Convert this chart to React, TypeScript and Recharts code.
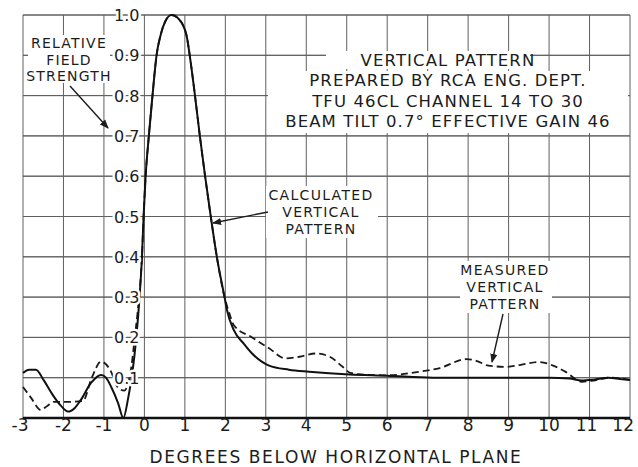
import React from 'react';
import { ComposedChart, Line, XAxis, YAxis, CartesianGrid, ReferenceDot, ReferenceLine, Customized } from 'recharts';

// Calculated vertical pattern (degrees, relative field)
const calcDeg = [-3.0, -2.85, -2.68, -2.49, -2.25, -2.06, -1.89, -1.72, -1.57, -1.32, -1.07, -0.95, -0.82, -0.65, -0.52, -0.4, -0.3, -0.2, -0.12, -0.06, -0.02, 0.03, 0.11, 0.2, 0.3, 0.4, 0.52, 0.67, 0.85, 1.04, 1.12, 1.25, 1.37, 1.5, 1.64, 1.79, 1.98, 2.04, 2.21, 2.45, 2.66, 3.08, 3.57, 4.07, 5.07, 6.0, 7.13, 8.0, 9.0, 10.0, 10.5, 10.81, 11.1, 11.47, 11.75, 12.0];
const calcVal = [0.112, 0.12, 0.12, 0.094, 0.055, 0.03, 0.016, 0.025, 0.045, 0.087, 0.107, 0.1, 0.077, 0.037, 0.0, 0.05, 0.11, 0.2, 0.3, 0.4, 0.5, 0.6, 0.7, 0.8, 0.9, 0.95, 0.985, 1.0, 0.99, 0.95, 0.9, 0.8, 0.7, 0.6, 0.5, 0.4, 0.3, 0.268, 0.218, 0.185, 0.16, 0.13, 0.12, 0.115, 0.108, 0.105, 0.1, 0.1, 0.1, 0.1, 0.098, 0.093, 0.095, 0.1, 0.097, 0.094];

// Measured vertical pattern
const measDeg = [-3.0, -2.8, -2.56, -2.4, -2.24, -1.9, -1.52, -1.3, -1.07, -0.85, -0.65, -0.5, -0.4, -0.3, -0.25, -0.15, -0.09, -0.06, -0.02, 0.03, 0.11, 0.2, 0.3, 0.4, 0.52, 0.67, 0.85, 1.04, 1.12, 1.25, 1.37, 1.5, 1.64, 1.79, 1.98, 2.1, 2.21, 2.66, 3.08, 3.48, 3.83, 4.23, 4.58, 4.9, 5.09, 5.5, 6.0, 6.73, 7.3, 7.96, 8.2, 8.5, 8.94, 9.3, 9.75, 10.1, 10.4, 10.81, 11.1, 11.5, 11.8, 12.0];
const measVal = [0.077, 0.05, 0.02, 0.03, 0.04, 0.04, 0.042, 0.1, 0.14, 0.12, 0.075, 0.068, 0.087, 0.144, 0.19, 0.28, 0.35, 0.4, 0.5, 0.6, 0.7, 0.8, 0.9, 0.95, 0.985, 1.0, 0.99, 0.95, 0.9, 0.8, 0.7, 0.6, 0.5, 0.4, 0.3, 0.26, 0.23, 0.2, 0.173, 0.148, 0.152, 0.16, 0.152, 0.127, 0.112, 0.107, 0.106, 0.114, 0.124, 0.146, 0.142, 0.13, 0.127, 0.132, 0.139, 0.13, 0.115, 0.09, 0.093, 0.1, 0.098, 0.095];

const xTicks = [-3, -2, -1, 0, 1, 2, 3, 4, 5, 6, 7, 8, 9, 10, 11, 12];
const yTicks = [0, 0.1, 0.2, 0.3, 0.4, 0.5, 0.6, 0.7, 0.8, 0.9, 1.0];
const yGridValues = [0.1, 0.2, 0.3, 0.4, 0.5, 0.6, 0.7, 0.8, 0.9, 1.0];
const yLabels = ['0.1', '0.2', '0.3', '0.4', '0.5', '0.6', '0.7', '0.8', '0.9', '1.0'];
const yLabelDeg = -0.75;

const titleLines = ['VERTICAL PATTERN', 'PREPARED BY RCA ENG. DEPT.', 'TFU 46CL CHANNEL 14 TO 30', 'BEAM TILT 0.7° EFFECTIVE GAIN 46'];
const calcLabel = ['CALCULATED', 'VERTICAL', 'PATTERN'];
const measLabel = ['MEASURED', 'VERTICAL', 'PATTERN'];
const axisLabelLines = ['RELATIVE', 'FIELD', 'STRENGTH'];
const xTitle = 'DEGREES BELOW HORIZONTAL PLANE';

const calcData = calcDeg.map((d, i) => ({ deg: d, calc: calcVal[i] }));
const measData = measDeg.map((d, i) => ({ deg: d, meas: measVal[i] }));

const FONT = '"DejaVu Sans", sans-serif';
const INK = '#1c1c1c';
const GRID = '#606060';

const W = 638;
const H = 467;
const MARGIN = { top: 15, right: 8, left: 22, bottom: 19 };
const X_AXIS_H = 30;
const Y_AXIS_W = 1;
const PLOT_LEFT = MARGIN.left + Y_AXIS_W;
const PLOT_RIGHT = W - MARGIN.right;
const PLOT_TOP = MARGIN.top;
const PLOT_H = H - MARGIN.top - MARGIN.bottom - X_AXIS_H;

const YLabel = (props: any) => {
  const { viewBox, value } = props;
  const x = viewBox.x + viewBox.width / 2;
  const y = viewBox.y + viewBox.height / 2;
  return (
    <text x={x} y={y + 6} fontFamily={FONT} fontSize={16} fill={INK} textAnchor="start"
      stroke="#fff" strokeWidth={5} paintOrder="stroke" strokeLinejoin="round">{value}</text>
  );
};

const XTick = (props: any) => {
  const { x, y, payload } = props;
  const v = payload.value;
  let anchor = 'middle';
  let dx = 0;
  if (v === 12) { anchor = 'end'; dx = 4; }
  if (v === 11) { dx = -3; }
  if (v === -3) { dx = -3; }
  return (
    <text x={x + dx} y={y + 13} textAnchor={anchor} fontFamily={FONT} fontSize={17} fill={INK}>{String(v)}</text>
  );
};

const Lines = ({ lines, cx, cy, gap, fs, ls }: any) => (
  <g>
    {lines.map((t: string, i: number) => (
      <text key={i} x={cx} y={cy + i * gap + fs * 0.36} textAnchor="middle" fontFamily={FONT}
        fontSize={fs} letterSpacing={ls} fill={INK}>{t}</text>
    ))}
  </g>
);

// Underlay: horizontal rulings of the chart paper (derived from the same plot box as the chart)
const GridUnderlay = () => (
  <svg width={W} height={H} style={{ position: 'absolute', left: 0, top: 0 }}>
    {yGridValues.map((v) => {
      const y = PLOT_TOP + PLOT_H * (1 - v);
      return <line key={v} x1={PLOT_LEFT} x2={PLOT_RIGHT} y1={y} y2={y} stroke={GRID} strokeWidth={1} />;
    })}
  </svg>
);

const Annotations = () => (
  <svg width={W} height={H} style={{ position: 'absolute', left: 0, top: 0, pointerEvents: 'none' }}>
    <defs>
      <marker id="ah" viewBox="0 0 10 10" refX="9" refY="5" markerWidth="9" markerHeight="9" markerUnits="userSpaceOnUse" orient="auto">
        <path d="M0,1 L10,5 L0,9 z" fill={INK} />
      </marker>
    </defs>
    {/* title block */}
    <rect x={326} y={51} width={204} height={18} fill="#fff" />
    <rect x={276} y={71} width={317} height={22} fill="#fff" />
    <rect x={268} y={93} width={360} height={40} fill="#fff" />
    <Lines lines={titleLines} cx={448} cy={60} gap={20.5} fs={16.5} ls={1.1} />
    {/* relative field strength */}
    <rect x={28} y={35} width={82} height={48} fill="#fff" />
    <Lines lines={axisLabelLines} cx={69} cy={43} gap={16.5} fs={14} ls={1.2} />
    <line x1={70} y1={86} x2={108} y2={128} stroke={INK} strokeWidth={1.4} markerEnd="url(#ah)" />
    {/* calculated */}
    <rect x={266} y={186} width={112} height={52} fill="#fff" />
    <Lines lines={calcLabel} cx={321} cy={195} gap={17} fs={14} ls={1.3} />
    <line x1={268} y1={212} x2={213} y2={223} stroke={INK} strokeWidth={1.4} markerEnd="url(#ah)" />
    {/* measured */}
    <rect x={460} y={261} width={92} height={52} fill="#fff" />
    <Lines lines={measLabel} cx={505} cy={270} gap={17} fs={14} ls={1.3} />
    <line x1={503} y1={314} x2={492} y2={362} stroke={INK} strokeWidth={1.4} markerEnd="url(#ah)" />
    {/* x title */}
    <text x={336} y={457 + 6} textAnchor="middle" fontFamily={FONT} fontSize={17} letterSpacing={1.6} fill={INK}>{xTitle}</text>
  </svg>
);

const Nothing = () => <g />;

export default function App() {
  return (
    <div style={{ position: 'absolute', left: 0, top: 0, width: W, height: H, background: '#fff' }}>
      <GridUnderlay />
      <div style={{ position: 'absolute', left: 0, top: 0 }}>
        <ComposedChart width={W} height={H} margin={MARGIN}>
          <CartesianGrid stroke={GRID} strokeWidth={1} horizontal={false} />
          <XAxis dataKey="deg" type="number" domain={[-3, 12]} ticks={xTicks} allowDuplicatedCategory={false}
            height={X_AXIS_H} tickSize={0} tickMargin={0} axisLine={{ stroke: '#111', strokeWidth: 2.5 }}
            tick={<XTick />} interval={0} />
          <YAxis type="number" domain={[0, 1]} ticks={yTicks} width={Y_AXIS_W} tick={false} axisLine={false} tickLine={false} interval={0} />
          {yGridValues.map((v) => (
            <ReferenceLine key={'g' + v} y={v} stroke={GRID} strokeWidth={1} ifOverflow="extendDomain" />
          ))}
          {yLabels.map((l) => (
            <ReferenceDot key={l} x={yLabelDeg} y={parseFloat(l)} r={0} fill="none" stroke="none" label={<YLabel value={l} />} />
          ))}
          <Line data={measData} dataKey="meas" type="monotone" stroke="#1a1a1a" strokeWidth={1.8} strokeDasharray="7 4" dot={false} isAnimationActive={false} />
          <Line data={calcData} dataKey="calc" type="monotone" stroke="#111" strokeWidth={2} dot={false} isAnimationActive={false} />
          <Customized component={Nothing} />
        </ComposedChart>
      </div>
      <Annotations />
    </div>
  );
}
